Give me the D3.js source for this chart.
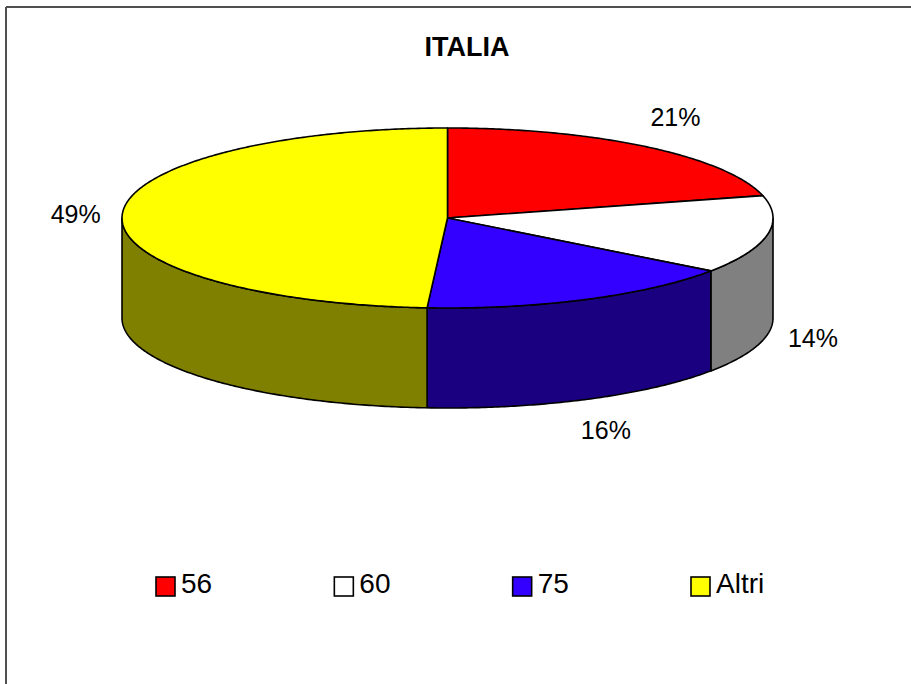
<!DOCTYPE html>
<html>
<head>
<meta charset="utf-8">
<script src="https://cdn.jsdelivr.net/npm/d3@7"></script>
<style>
  html, body { margin: 0; padding: 0; background: #fff; }
  svg { display: block; }
  text { font-family: "Liberation Sans", Arial, Helvetica, sans-serif; fill: #000; }
</style>
</head>
<body>
<svg id="chart" width="911" height="684"></svg>
<script>
// Quote di mercato – ITALIA
const categories = ["56", "60", "75", "Altri"];
const values = [21, 14, 16, 49];
const valueLabels = ["21%", "14%", "16%", "49%"];
const topColors = ["#FF0000", "#FFFFFF", "#3300FF", "#FFFF00"];
const sideColors = ["#800000", "#808080", "#1A0080", "#808000"];

const W = 911, H = 684;
const svg = d3.select("#chart");

// chart frame (top and left edges)
svg.append("line").attr("x1", 6).attr("y1", 7).attr("x2", W).attr("y2", 7)
  .attr("stroke", "#505050").attr("stroke-width", 2);
svg.append("line").attr("x1", 6).attr("y1", 7).attr("x2", 6).attr("y2", H)
  .attr("stroke", "#505050").attr("stroke-width", 2);

// title
svg.append("text")
  .attr("x", 467).attr("y", 56)
  .attr("text-anchor", "middle")
  .style("font-size", "27px").style("font-weight", "bold")
  .text("ITALIA");

// elliptical projection of the pie disc
const cx = 447.5, cy = 218, rx = 325.5, ry = 90, depth = 100;
const px = d3.scaleLinear().domain([-1, 1]).range([cx - rx, cx + rx]);
const py = d3.scaleLinear().domain([-1, 1]).range([cy - ry, cy + ry]);

const pie = d3.pie().sort(null).value(d => d).startAngle(0).endAngle(2 * Math.PI);
const arcs = pie(values);

function pt(a, dz) { return [px(Math.sin(a)), py(-Math.cos(a)) + dz]; }
function rim(a0, a1, dz) {
  const n = Math.max(2, Math.ceil(Math.abs(a1 - a0) / 0.01));
  return d3.range(n + 1).map(i => pt(a0 + (a1 - a0) * i / n, dz));
}
const line = d3.line();

const pieG = svg.append("g");

// visible side walls: front half of the disc (from 3 o'clock to 9 o'clock)
const frontStart = Math.PI / 2, frontEnd = 3 * Math.PI / 2;
arcs.forEach((d, i) => {
  const s0 = Math.max(d.startAngle, frontStart);
  const s1 = Math.min(d.endAngle, frontEnd);
  if (s1 <= s0) return;
  const pts = rim(s0, s1, 0).concat(rim(s1, s0, depth));
  pieG.append("path")
    .attr("d", line(pts) + "Z")
    .attr("fill", sideColors[i])
    .attr("stroke", "#000").attr("stroke-width", 1.6)
    .attr("stroke-linejoin", "round");
});

// top faces
arcs.forEach((d, i) => {
  const pts = [[cx, cy]].concat(rim(d.startAngle, d.endAngle, 0));
  pieG.append("path")
    .attr("d", line(pts) + "Z")
    .attr("fill", topColors[i])
    .attr("stroke", "#000").attr("stroke-width", 1.6)
    .attr("stroke-linejoin", "round");
});

// percentage labels outside each slice
const lx = d3.scaleLinear().domain([-1, 1]).range([cx - 372, cx + 372]);
const ly = d3.scaleLinear().domain([-1, 1]).range([cy - 128, cy + 128]);
arcs.forEach((d, i) => {
  const m = (d.startAngle + d.endAngle) / 2;
  const front = Math.cos(m) < 0 ? 96 : 0;
  svg.append("text")
    .attr("x", lx(Math.sin(m)))
    .attr("y", ly(-Math.cos(m)) + front)
    .attr("dy", "0.36em")
    .attr("text-anchor", "middle")
    .style("font-size", "25px")
    .text(valueLabels[i]);
});

// legend
const lg = d3.scalePoint().domain(categories).range([156, 691]);
const legend = svg.append("g");
categories.forEach((c, i) => {
  legend.append("rect")
    .attr("x", lg(c)).attr("y", 577)
    .attr("width", 19).attr("height", 19)
    .attr("fill", topColors[i])
    .attr("stroke", "#000").attr("stroke-width", 1.6);
  legend.append("text")
    .attr("x", lg(c) + 25).attr("y", 593)
    .style("font-size", "28px")
    .text(c);
});
</script>
</body>
</html>
